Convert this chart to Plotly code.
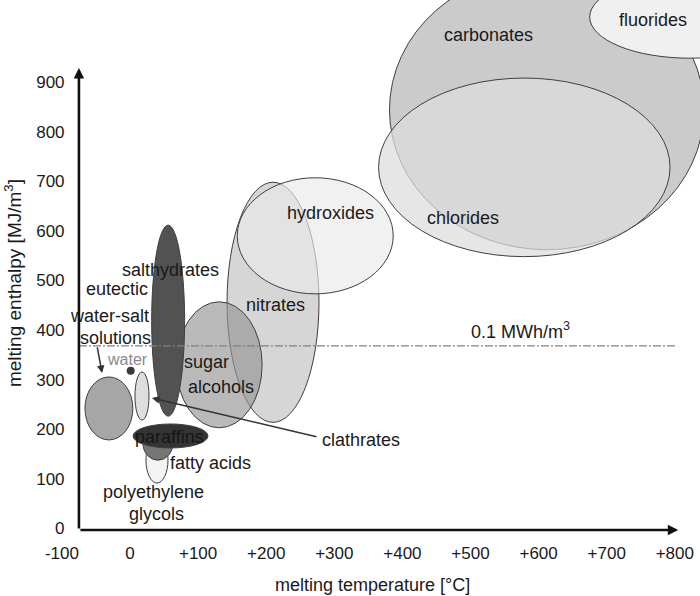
import plotly.graph_objects as go

# ---------------- data ----------------
# material classes: centre of ellipse (melting temperature [°C], melting enthalpy [MJ/m3])
# and half extents of the range covered by each class
classes = ["carbonates", "fluorides", "chlorides", "nitrates", "hydroxides",
           "sugar alcohols", "salthydrates", "eutectic water-salt solutions",
           "clathrates", "polyethylene glycols", "fatty acids", "paraffins"]
temp_mid = [612, 822, 579, 210, 272, 131, 56, -31, 17.6, 39.6, 41, 59.5]
enth_mid = [844, 1031, 728, 456, 590, 330, 419, 242, 267, 138, 172, 186.5]
temp_half = [231, 147, 214, 67.5, 114.5, 63, 24.2, 35.2, 10.3, 16.2, 22, 55]
enth_half = [282, 83, 180, 242, 117, 127, 192.5, 63.5, 48.4, 46.4, 34.3, 24.2]

# single substance: water
water_temp = [1]
water_enth = [318]

# 0.1 MWh/m3 reference level
ref_level = 368

# class labels
label_text = ["carbonates", "fluorides", "chlorides", "hydroxides", "nitrates",
              "sugar", "alcohols", "salthydrates", "eutectic", "water-salt",
              "solutions", "water", "paraffins", "fatty acids", "polyethylene",
              "glycols", "clathrates", "0.1 MWh/m<sup>3</sup>"]
label_temp = [526, 768, 489, 294, 214, 113, 133, 59, -19, -29.4, -22, -3.7,
              58.7, 117.5, 35.2, 38.9, 339, 573]
label_enth = [995, 1025, 626, 636, 450, 336, 285, 521, 482, 428, 384, 340,
              184, 132, 74, 29, 178, 400]

# axis ticks
x_ticks = [-100, 0, 100, 200, 300, 400, 500, 600, 700, 800]
x_ticktext = ["-100", "0", "+100", "+200", "+300", "+400", "+500", "+600", "+700", "+800"]
y_ticks = [0, 100, 200, 300, 400, 500, 600, 700, 800, 900]

# axis extents (origin of drawn axes, arrow tips)
axis_t0, axis_t1 = -75, 805
axis_e0, axis_e1 = -3, 928

# arrows: (head temp, head enth, tail temp, tail enth)
arrow_head_t = [-41, 32.3]
arrow_head_e = [313.5, 263]
arrow_tail_t = [-48.5, 276]
arrow_tail_e = [368, 184.4]

# ---------------- styles ----------------
fills = ["rgb(203,203,203)", "rgb(240,240,240)", "rgba(220,220,220,0.72)",
         "rgb(214,214,214)", "rgba(234,234,234,0.65)", "rgba(148,148,148,0.66)",
         "rgb(82,82,82)", "rgb(166,166,166)", "rgb(222,222,222)",
         "rgb(243,243,243)", "rgb(118,118,118)", "rgb(52,52,52)"]
label_colors = ["#1a1a1a"] * len(label_text)
label_sizes = [18] * len(label_text)
label_colors[label_text.index("water")] = "#8a8a8a"
label_sizes[label_text.index("water")] = 16
label_colors[label_text.index("paraffins")] = "#161616"
FONT = "Liberation Sans, Arial, sans-serif"

fig = go.Figure()

for i in range(len(classes)):
    fig.add_shape(type="circle", xref="x", yref="y",
                  x0=temp_mid[i] - temp_half[i], x1=temp_mid[i] + temp_half[i],
                  y0=enth_mid[i] - enth_half[i], y1=enth_mid[i] + enth_half[i],
                  fillcolor=fills[i], line=dict(color="#3f3f3f", width=1),
                  layer="below")

# reference line 0.1 MWh/m3
fig.add_trace(go.Scatter(x=[axis_t0, axis_t1 - 2], y=[ref_level, ref_level],
                         mode="lines", hoverinfo="skip", showlegend=False,
                         line=dict(color="#808080", width=1.3, dash="8px,2px,2px,2px")))

# water point
fig.add_trace(go.Scatter(x=water_temp, y=water_enth, mode="markers", showlegend=False,
                         marker=dict(size=8, color="#3a3a3a")))

annotations = []
for t, x, y, c, s in zip(label_text, label_temp, label_enth, label_colors, label_sizes):
    annotations.append(dict(text=t, x=x, y=y, xref="x", yref="y", showarrow=False,
                            font=dict(family=FONT, size=s, color=c)))

for hx, hy, tx, ty in zip(arrow_head_t, arrow_head_e, arrow_tail_t, arrow_tail_e):
    annotations.append(dict(text="", x=hx, y=hy, ax=tx, ay=ty, xref="x", yref="y",
                            axref="x", ayref="y", showarrow=True, arrowhead=2,
                            arrowsize=1, arrowwidth=1.5, arrowcolor="#333"))

# drawn axes with arrow tips
annotations.append(dict(text="", x=axis_t1, y=axis_e0, ax=axis_t0, ay=axis_e0,
                        xref="x", yref="y", axref="x", ayref="y", showarrow=True,
                        arrowhead=2, arrowsize=0.8, arrowwidth=2.6, arrowcolor="#111"))
annotations.append(dict(text="", x=axis_t0, y=axis_e1, ax=axis_t0, ay=axis_e0,
                        xref="x", yref="y", axref="x", ayref="y", showarrow=True,
                        arrowhead=2, arrowsize=0.8, arrowwidth=2.6, arrowcolor="#111"))

# axis titles
annotations.append(dict(text="melting temperature [°C]", x=0.4875, y=-0.0914,
                        xref="paper", yref="paper", showarrow=False,
                        xanchor="center", yanchor="middle",
                        font=dict(family=FONT, size=18, color="#1a1a1a")))
annotations.append(dict(text="melting enthalpy [MJ/m<sup>3</sup>]", x=-0.0734, y=0.472,
                        xref="paper", yref="paper", showarrow=False, textangle=-90,
                        xanchor="center", yanchor="middle",
                        font=dict(family=FONT, size=19, color="#1a1a1a")))

fig.update_layout(
    width=700, height=596,
    margin=dict(l=60, r=0, t=0, b=60, autoexpand=False),
    plot_bgcolor="white", paper_bgcolor="white",
    showlegend=False,
    annotations=annotations,
    xaxis=dict(range=[-102.8, 837], showgrid=False, zeroline=False, showline=False,
               tickmode="array", tickvals=x_ticks, ticktext=x_ticktext,
               ticks="outside", ticklen=2, tickcolor="rgba(0,0,0,0)",
               tickfont=dict(family=FONT, size=17, color="#1a1a1a")),
    yaxis=dict(range=[-15.1, 1065.3], showgrid=False, zeroline=False, showline=False,
               anchor="free", position=0.0156,
               tickmode="array", tickvals=y_ticks,
               ticks="outside", ticklen=2, tickcolor="rgba(0,0,0,0)",
               tickfont=dict(family=FONT, size=17, color="#1a1a1a")),
)

fig.write_html("out.html")
